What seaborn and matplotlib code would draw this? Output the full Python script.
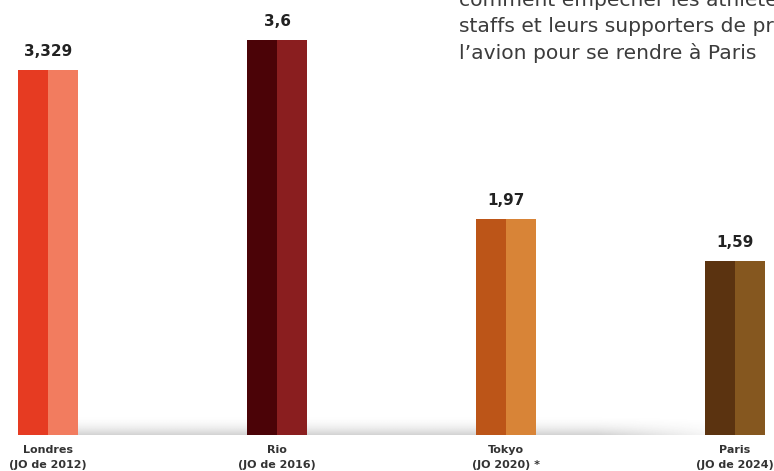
import numpy as np
import pandas as pd
import matplotlib
matplotlib.use('Agg')
import matplotlib.pyplot as plt
import seaborn as sns

# data
cities = ['Londres', 'Rio', 'Tokyo', 'Paris']
editions = ['(JO de 2012)', '(JO de 2016)', '(JO 2020) *', '(JO de 2024)']
values = [3.329, 3.6, 1.97, 1.59]
value_labels = ['3,329', '3,6', '1,97', '1,59']
dark_colors = ['#E63B22', '#4B0307', '#BC5518', '#5B3310']
light_colors = ['#F27C5F', '#8A1E1F', '#D88437', '#85571F']
note_lines = ['comment empêcher les athlètes,',
              'staffs et leurs supporters de prendre',
              'l\u2019avion pour se rendre à Paris']

sns.set_theme(style='white')
plt.rcParams['font.family'] = ['DejaVu Sans']

# each bar is split into two halves -> hue
df = pd.DataFrame({
    'ville': cities * 2,
    'moitie': ['a'] * 4 + ['b'] * 4,
    'valeur': values * 2,
})

fig = plt.figure(figsize=(7.74, 4.71), dpi=100)
ax = fig.add_axes([0, 0, 1, 1])

sns.barplot(data=df, x='ville', y='valeur', hue='moitie', order=cities,
            hue_order=['a', 'b'], width=0.265, dodge=True, gap=0,
            legend=False, ax=ax, zorder=3)

# recolor the halves
for container, cols in zip(ax.containers, [dark_colors, light_colors]):
    for patch, c in zip(container.patches, cols):
        patch.set_facecolor(c)
        patch.set_edgecolor('none')
        patch.set_linewidth(0)

# soft shadow just above the baseline, darkest at the baseline
h, w = 60, 600
vert = np.linspace(0, 1, h)[:, None] ** 2.2
fade = np.linspace(0, 1, w)
horiz = np.clip(np.minimum(fade * 40, (1 - fade) * 5.0), 0, 1)
alpha = vert[::-1] * horiz[None, :] * 0.22
img = np.zeros((h, w, 4))
img[..., :3] = 0.2
img[..., 3] = alpha
ax.imshow(img, extent=(0.0, 3.0, 0.0, 0.19), origin='lower',
          aspect='auto', zorder=2, interpolation='bilinear')
ax.set_xlim(-0.2096, 3.170)
ax.set_ylim(-0.328, 3.965)

# value labels
for i, (v, lab) in enumerate(zip(values, value_labels)):
    ax.text(i, v + 0.165, lab, ha='center', va='center', fontsize=11,
            fontweight='bold', color='#222222', zorder=4)

# category labels
for i, (c, e) in enumerate(zip(cities, editions)):
    ax.text(i, -0.135, c, ha='center', va='center', fontsize=8,
            fontweight='bold', color='#333333')
    ax.text(i, -0.275, e, ha='center', va='center', fontsize=8,
            fontweight='bold', color='#333333')

# text fragment in the top right corner (cut by the frame in the original)
for k, line in enumerate(note_lines):
    fig.text(459 / 774, 1 - (6 + 26.5 * k) / 471, line, ha='left',
             va='baseline', fontsize=14.6, color='#3c3c3c')

ax.set_xlabel('')
ax.set_ylabel('')
ax.set_xticks([])
ax.set_yticks([])
sns.despine(ax=ax, left=True, bottom=True)

fig.savefig('out.png', dpi=100)
